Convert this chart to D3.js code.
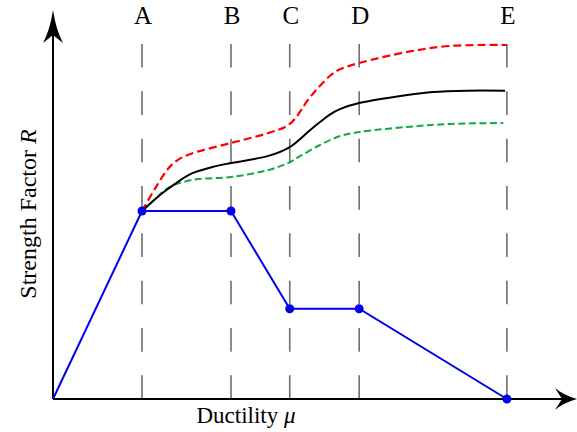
<!DOCTYPE html>
<html>
<head>
<meta charset="utf-8">
<script src="https://cdn.jsdelivr.net/npm/d3@7"></script>
<style>
  body { margin: 0; background: #fff; }
  svg text { font-family: "Liberation Serif", "Times New Roman", serif; }
</style>
</head>
<body>
<div id="chart"></div>
<script>
// stage labels and their ductility positions
const stages = ["A", "B", "C", "D", "E"];
const stageMu = [1.0, 2.0, 2.66, 3.44, 5.1];

// simplified capacity line (blue), starts at origin
const capMu = [0, 1.0, 2.0, 2.66, 3.44, 5.1];
const capR = [0, 1.0, 1.0, 0.48, 0.48, 0];

// strength curves
const meanMu = [1.0, 1.15, 1.26, 1.40, 1.56, 1.79, 2.0, 2.42, 2.66, 2.89, 3.0, 3.11, 3.23, 3.44, 3.98, 4.27, 4.65, 5.08];
const meanR = [1.0, 1.064, 1.106, 1.154, 1.2, 1.234, 1.255, 1.293, 1.34, 1.431, 1.473, 1.513, 1.543, 1.574, 1.617, 1.633, 1.64, 1.64];

const upperMu = [1.0, 1.15, 1.29, 1.40, 1.56, 2.0, 2.42, 2.66, 2.89, 3.11, 3.23, 3.44, 3.98, 4.46, 5.1];
const upperR = [1.0, 1.122, 1.223, 1.271, 1.306, 1.362, 1.415, 1.463, 1.606, 1.718, 1.755, 1.787, 1.846, 1.878, 1.883];

const lowerMu = [1.0, 1.15, 1.29, 1.56, 2.0, 2.42, 2.64, 2.78, 3.0, 3.23, 3.44, 3.98, 4.46, 5.06];
const lowerR = [1.0, 1.064, 1.122, 1.165, 1.181, 1.218, 1.255, 1.293, 1.351, 1.399, 1.42, 1.447, 1.463, 1.468];

const width = 577, height = 432;
const x0 = 53, y0 = 399;

const svg = d3.select("#chart").append("svg")
    .attr("width", width)
    .attr("height", height);

const x = d3.scaleLinear().domain([0, 1]).range([x0, x0 + 89]);
const y = d3.scaleLinear().domain([0, 1]).range([y0, y0 - 188]);

// vertical dashed stage lines
svg.selectAll(".stage").data(stageMu).enter().append("line")
    .attr("x1", d => x(d)).attr("x2", d => x(d))
    .attr("y1", y0).attr("y2", 43)
    .attr("stroke", "#6e6e6e")
    .attr("stroke-width", 1.6)
    .attr("stroke-dasharray", "23.67,23.67");

svg.selectAll(".stageLabel").data(stages).enter().append("text")
    .attr("x", (d, i) => x(stageMu[i]) + 1)
    .attr("y", 24)
    .attr("text-anchor", "middle")
    .style("font-size", "25px")
    .text(d => d);

// axes
svg.append("line")
    .attr("x1", x0).attr("y1", y0).attr("x2", 562).attr("y2", y0)
    .attr("stroke", "black").attr("stroke-width", 2);
svg.append("line")
    .attr("x1", x0).attr("y1", y0).attr("x2", x0).attr("y2", 34)
    .attr("stroke", "black").attr("stroke-width", 2);

// arrow heads
svg.append("path")
    .attr("d", "M577,399 Q563,395 555,388 L562,399 L555,410 Q563,403 577,399 Z")
    .attr("fill", "black");
svg.append("path")
    .attr("d", "M53,10 Q50,30 43,43 L53,35 L63,43 Q56,30 53,10 Z")
    .attr("fill", "black");

const line = d3.line()
    .x(d => x(d[0]))
    .y(d => y(d[1]))
    .curve(d3.curveCatmullRom.alpha(0.5));

function pairs(a, b) { return a.map((v, i) => [v, b[i]]); }

svg.append("path")
    .attr("d", line(pairs(lowerMu, lowerR)))
    .attr("fill", "none")
    .attr("stroke", "#12a84a")
    .attr("stroke-width", 2)
    .attr("stroke-dasharray", "7,3.5");

svg.append("path")
    .attr("d", line(pairs(upperMu, upperR)))
    .attr("fill", "none")
    .attr("stroke", "#ff0000")
    .attr("stroke-width", 2.2)
    .attr("stroke-dasharray", "8,4");

svg.append("path")
    .attr("d", line(pairs(meanMu, meanR)))
    .attr("fill", "none")
    .attr("stroke", "black")
    .attr("stroke-width", 2);

// blue capacity line
const cap = pairs(capMu, capR);
svg.append("path")
    .attr("d", d3.line().x(d => x(d[0])).y(d => y(d[1]))(cap))
    .attr("fill", "none")
    .attr("stroke", "#0000ee")
    .attr("stroke-width", 2);

svg.selectAll(".dot").data(cap.slice(1)).enter().append("circle")
    .attr("cx", d => x(d[0]))
    .attr("cy", d => y(d[1]))
    .attr("r", 4.5)
    .attr("fill", "#0000ee");

// axis titles
const xt = svg.append("text")
    .attr("x", 246).attr("y", 423)
    .attr("text-anchor", "middle")
    .style("font-size", "23px");
xt.append("tspan").text("Ductility ");
xt.append("tspan").style("font-style", "italic").text("μ");

const yt = svg.append("text")
    .attr("transform", "translate(36,214) rotate(-90)")
    .attr("text-anchor", "middle")
    .style("font-size", "24px");
yt.append("tspan").text("Strength Factor ");
yt.append("tspan").style("font-style", "italic").text("R");
</script>
</body>
</html>
